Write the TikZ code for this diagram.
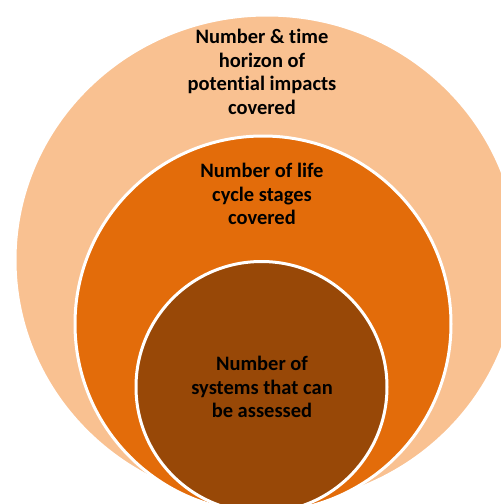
\documentclass[tikz,border=0pt]{standalone}
\usepackage{fontspec}
\setmainfont{Carlito}[Ligatures={NoCommon}]
\definecolor{outerc}{HTML}{F9C191}
\definecolor{midc}{HTML}{E36C0A}
\definecolor{innerc}{HTML}{984807}
\tikzset{
  ring/.style={draw=white, line width=3pt},
  lbl/.style={align=center, text=black, font=\bfseries\fontsize{20.5}{23.5}\selectfont, inner sep=0pt}
}
\begin{document}
\begin{tikzpicture}[x=1pt,y=-1pt]
\useasboundingbox (0,0) rectangle (501,504);
\clip (0,0) rectangle (501,504);
\fill[white] (0,0) rectangle (501,504);
\path[ring, fill=outerc] (267,260) ellipse [x radius=252, y radius=245];
\path[ring, fill=midc] (263,324) circle [radius=188];
\path[ring, fill=innerc] (261.5,387) circle [radius=125.5];
\node[lbl] (outer) at (262,72) {Number \& time\\horizon of\\potential impacts\\covered};
\node[lbl] (mid) at (262,194) {Number of life\\cycle stages\\covered};
\node[lbl] (inner) at (262,387) {Number of\\systems that can\\be assessed};
\end{tikzpicture}
\end{document}
